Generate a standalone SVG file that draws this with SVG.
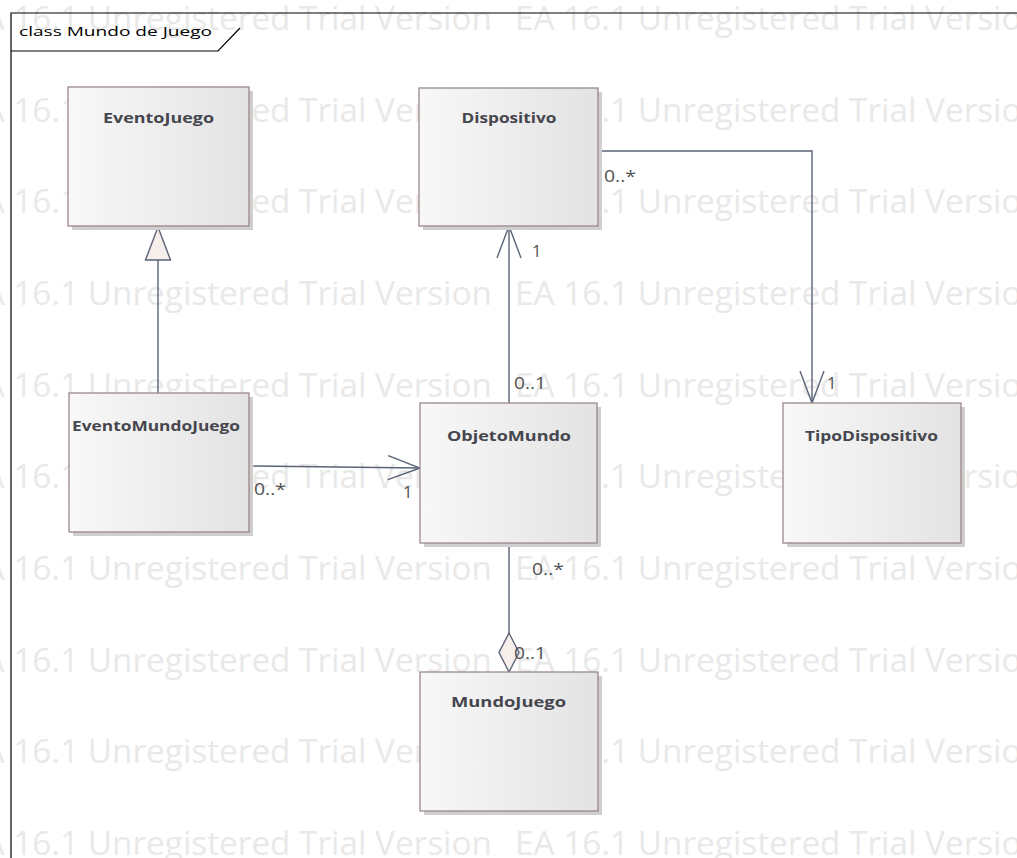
<svg xmlns="http://www.w3.org/2000/svg" width="1017" height="858" viewBox="0 0 1017 858">
  <defs>
    <linearGradient id="boxFill" x1="0" y1="0" x2="1" y2="0">
      <stop offset="0" stop-color="#f8f8f8"/>
      <stop offset="1" stop-color="#e3e3e3"/>
    </linearGradient>
    <marker id="openArrow" viewBox="0 0 34 26" refX="33" refY="13" markerWidth="34" markerHeight="26" markerUnits="userSpaceOnUse" orient="auto">
      <path d="M1,1 L33,13 L1,25" fill="none" stroke="#5a6378" stroke-width="1.4"/>
    </marker>
  </defs>
  <style>
    .wm { font-family: "Open Sans", "Liberation Sans", sans-serif; font-size: 32px; fill: #e9e9e9; }
    .box { fill: url(#boxFill); stroke: #9a8888; stroke-width: 1.3; }
    .shadow { fill: #cfcfcf; }
    .title { font-family: "Open Sans", "Liberation Sans", sans-serif; font-size: 14px; font-weight: bold; fill: #46464e; text-anchor: middle; }
    .conn { fill: none; stroke: #5a6378; stroke-width: 1.4; }
    .mult { font-family: "Open Sans", "Liberation Sans", sans-serif; font-size: 16.5px; fill: #505050; }
    .frame { fill: none; stroke: #000000; stroke-width: 1.2; }
    .frameText { font-family: "Open Sans", "Liberation Sans", sans-serif; font-size: 13.5px; fill: #000000; }
  </style>

  <rect x="0" y="0" width="1017" height="858" fill="#ffffff"/>

  <!-- background watermark rows -->
  <g id="watermark">
    <text class="wm" x="-35" y="30" textLength="527" lengthAdjust="spacingAndGlyphs">EA 16.1 Unregistered Trial Version</text>
    <text class="wm" x="515" y="30" textLength="527" lengthAdjust="spacingAndGlyphs">EA 16.1 Unregistered Trial Version</text>
    <text class="wm" x="-35" y="122" textLength="527" lengthAdjust="spacingAndGlyphs">EA 16.1 Unregistered Trial Version</text>
    <text class="wm" x="515" y="122" textLength="527" lengthAdjust="spacingAndGlyphs">EA 16.1 Unregistered Trial Version</text>
    <text class="wm" x="-35" y="213" textLength="527" lengthAdjust="spacingAndGlyphs">EA 16.1 Unregistered Trial Version</text>
    <text class="wm" x="515" y="213" textLength="527" lengthAdjust="spacingAndGlyphs">EA 16.1 Unregistered Trial Version</text>
    <text class="wm" x="-35" y="305" textLength="527" lengthAdjust="spacingAndGlyphs">EA 16.1 Unregistered Trial Version</text>
    <text class="wm" x="515" y="305" textLength="527" lengthAdjust="spacingAndGlyphs">EA 16.1 Unregistered Trial Version</text>
    <text class="wm" x="-35" y="397" textLength="527" lengthAdjust="spacingAndGlyphs">EA 16.1 Unregistered Trial Version</text>
    <text class="wm" x="515" y="397" textLength="527" lengthAdjust="spacingAndGlyphs">EA 16.1 Unregistered Trial Version</text>
    <text class="wm" x="-35" y="488" textLength="527" lengthAdjust="spacingAndGlyphs">EA 16.1 Unregistered Trial Version</text>
    <text class="wm" x="515" y="488" textLength="527" lengthAdjust="spacingAndGlyphs">EA 16.1 Unregistered Trial Version</text>
    <text class="wm" x="-35" y="580" textLength="527" lengthAdjust="spacingAndGlyphs">EA 16.1 Unregistered Trial Version</text>
    <text class="wm" x="515" y="580" textLength="527" lengthAdjust="spacingAndGlyphs">EA 16.1 Unregistered Trial Version</text>
    <text class="wm" x="-35" y="672" textLength="527" lengthAdjust="spacingAndGlyphs">EA 16.1 Unregistered Trial Version</text>
    <text class="wm" x="515" y="672" textLength="527" lengthAdjust="spacingAndGlyphs">EA 16.1 Unregistered Trial Version</text>
    <text class="wm" x="-35" y="763" textLength="527" lengthAdjust="spacingAndGlyphs">EA 16.1 Unregistered Trial Version</text>
    <text class="wm" x="515" y="763" textLength="527" lengthAdjust="spacingAndGlyphs">EA 16.1 Unregistered Trial Version</text>
    <text class="wm" x="-35" y="855" textLength="527" lengthAdjust="spacingAndGlyphs">EA 16.1 Unregistered Trial Version</text>
    <text class="wm" x="515" y="855" textLength="527" lengthAdjust="spacingAndGlyphs">EA 16.1 Unregistered Trial Version</text>
  </g>

  <!-- diagram frame with name tab -->
  <g id="frame">
    <path class="frame" d="M11,858 L11,13 L1017,13"/>
    <path class="frame" d="M11,51 L218,51 L240,28"/>
    <text class="frameText" x="19" y="36" textLength="193" lengthAdjust="spacingAndGlyphs">class Mundo de Juego</text>
  </g>

  <!-- connectors -->
  <g id="connectors">
    <!-- EventoMundoJuego generalizes EventoJuego -->
    <line class="conn" x1="158" y1="393" x2="158" y2="260"/>
    <path d="M158,227 L170.5,260 L145.5,260 Z" fill="#f6eeea" stroke="#5a6378" stroke-width="1.4"/>
    <!-- EventoMundoJuego -> ObjetoMundo -->
    <line class="conn" x1="249" y1="466" x2="420" y2="468" marker-end="url(#openArrow)"/>
    <!-- ObjetoMundo -> Dispositivo -->
    <line class="conn" x1="509" y1="403" x2="509" y2="226" marker-end="url(#openArrow)"/>
    <!-- Dispositivo -> TipoDispositivo -->
    <path class="conn" d="M598,151 L812,151 L812,403" marker-end="url(#openArrow)"/>
    <!-- MundoJuego aggregates ObjetoMundo -->
    <line class="conn" x1="509" y1="543" x2="509" y2="633"/>
    <path d="M509,633 L519,652.5 L509,672 L499,652.5 Z" fill="#f6eeea" stroke="#5a6378" stroke-width="1.4"/>

    <text class="mult" x="254" y="495" textLength="32" lengthAdjust="spacingAndGlyphs">0..*</text>
    <text class="mult" x="403" y="498">1</text>
    <text class="mult" x="532" y="257">1</text>
    <text class="mult" x="514" y="389" textLength="32" lengthAdjust="spacingAndGlyphs">0..1</text>
    <text class="mult" x="604" y="182" textLength="32" lengthAdjust="spacingAndGlyphs">0..*</text>
    <text class="mult" x="827" y="389">1</text>
    <text class="mult" x="532" y="575" textLength="32" lengthAdjust="spacingAndGlyphs">0..*</text>
    <text class="mult" x="514" y="659" textLength="32" lengthAdjust="spacingAndGlyphs">0..1</text>
  </g>

  <!-- classes -->
  <g id="EventoJuego">
    <rect class="shadow" x="72" y="91" width="181" height="139"/>
    <rect class="box" x="68" y="87" width="181" height="139"/>
    <text class="title" x="158.5" y="123" textLength="111" lengthAdjust="spacingAndGlyphs">EventoJuego</text>
  </g>
  <g id="Dispositivo">
    <rect class="shadow" x="423" y="92" width="179" height="138"/>
    <rect class="box" x="419" y="88" width="179" height="138"/>
    <text class="title" x="509" y="123" textLength="95" lengthAdjust="spacingAndGlyphs">Dispositivo</text>
  </g>
  <g id="EventoMundoJuego">
    <rect class="shadow" x="73" y="397" width="180" height="139"/>
    <rect class="box" x="69" y="393" width="180" height="139"/>
    <text class="title" x="156" y="431" textLength="168" lengthAdjust="spacingAndGlyphs">EventoMundoJuego</text>
  </g>
  <g id="ObjetoMundo">
    <rect class="shadow" x="424" y="407" width="177" height="140"/>
    <rect class="box" x="420" y="403" width="177" height="140"/>
    <text class="title" x="509" y="441" textLength="124" lengthAdjust="spacingAndGlyphs">ObjetoMundo</text>
  </g>
  <g id="TipoDispositivo">
    <rect class="shadow" x="787" y="407" width="178" height="140"/>
    <rect class="box" x="783" y="403" width="178" height="140"/>
    <text class="title" x="871.5" y="441" textLength="133" lengthAdjust="spacingAndGlyphs">TipoDispositivo</text>
  </g>
  <g id="MundoJuego">
    <rect class="shadow" x="424" y="676" width="178" height="139"/>
    <rect class="box" x="420" y="672" width="178" height="139"/>
    <text class="title" x="508.5" y="707" textLength="115" lengthAdjust="spacingAndGlyphs">MundoJuego</text>
  </g>
</svg>
